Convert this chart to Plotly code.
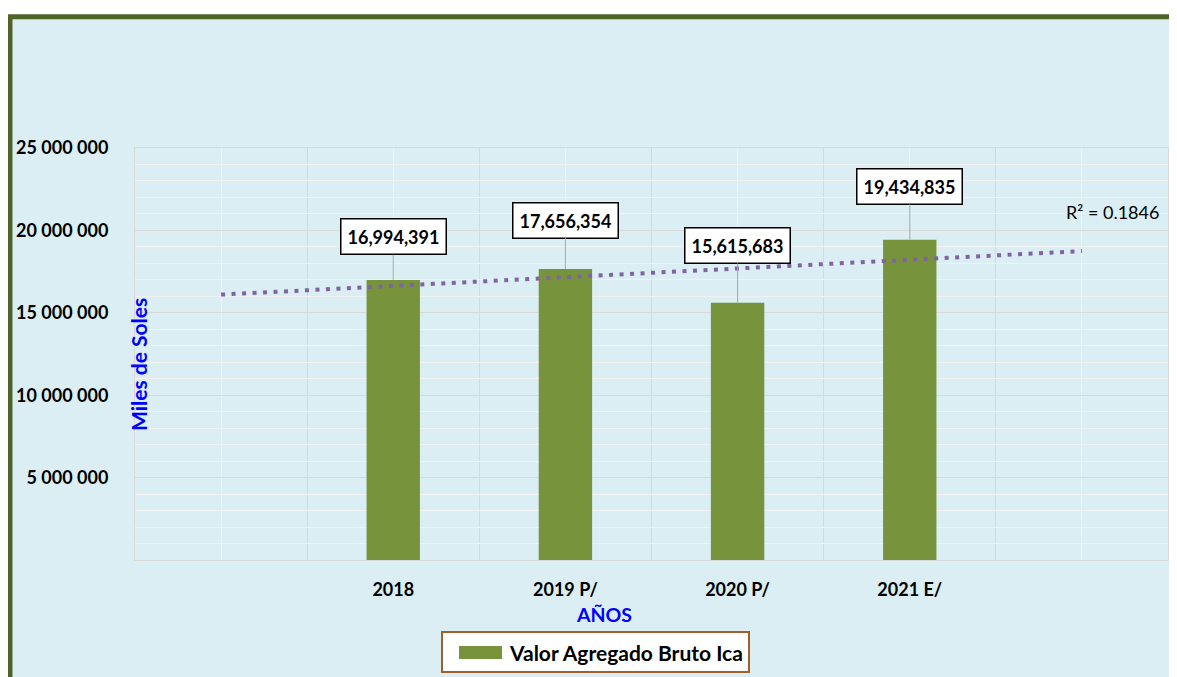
import numpy as np
import plotly.graph_objects as go

# ---- data ----
categories = ["", "2018", "2019 P/", "2020 P/", "2021 E/", ""]
bar_positions = [1, 2, 3, 4]
bar_values = [16994391, 17656354, 15615683, 19434835]
series_name = "Valor Agregado Bruto Ica"
y_tick_values = [5000000, 10000000, 15000000, 20000000, 25000000]
y_tick_labels = ["5 000 000", "10 000 000", "15 000 000", "20 000 000", "25 000 000"]
label_offsets = [-43, -49, -57, -53]

# ---- linear trend (forecast 1 period back and forward) ----
coef = np.polyfit(bar_positions, bar_values, 1)
trend_x = [0, 5]
trend_y = list(np.polyval(coef, trend_x))
fitted = np.polyval(coef, bar_positions)
ss_res = float(np.sum((np.array(bar_values) - fitted) ** 2))
ss_tot = float(np.sum((np.array(bar_values) - np.mean(bar_values)) ** 2))
r2 = 1 - ss_res / ss_tot

# page has an 8px body margin: figure pixel = page pixel - 8
OFF = 8
W, H = 1177 - OFF, 677 - OFF
L, T = 135 - OFF, 148 - OFF
pw, ph = 1033, 412
R, B = W - L - pw, H - T - ph


def px_x(p):  # page pixel -> paper x
    return (p - OFF - L) / pw


def px_y(p):  # page pixel -> paper y
    return (T + ph + OFF - p) / ph


FONT = "Lato"
BG = "#DAEEF3"
GREEN = "#77933C"

fig = go.Figure()

fig.add_trace(go.Bar(
    x=bar_positions, y=bar_values, name=series_name, width=0.31,
    marker=dict(color=GREEN, line=dict(width=0)),
    hoverinfo="y", showlegend=False,
))

fig.add_trace(go.Scatter(
    x=trend_x, y=trend_y, mode="lines", showlegend=False,
    line=dict(color="#8064A2", width=4, dash="4px,6.5px"),
    hoverinfo="skip",
))

annotations = []
for xv, yv, off in zip(bar_positions, bar_values, label_offsets):
    annotations.append(dict(
        x=xv, y=yv, xref="x", yref="y", ax=0, ay=off,
        text="{:,}".format(yv), showarrow=True, arrowhead=0,
        arrowcolor="#A6A6A6", arrowwidth=1, standoff=0,
        bgcolor="white", bordercolor="black", borderwidth=1.5, borderpad=6,
        font=dict(family=FONT, size=18, color="black", weight=700),
    ))

annotations.append(dict(
    x=px_x(1112), y=px_y(212), xref="paper", yref="paper",
    xanchor="center", yanchor="middle",
    text="R² = {:.4f}".format(r2), showarrow=False,
    font=dict(family=FONT, size=18, color="black"),
))
annotations.append(dict(
    x=px_x(138), y=px_y(365), xref="paper", yref="paper",
    xanchor="center", yanchor="middle",
    text="Miles de Soles", showarrow=False, textangle=-90,
    font=dict(family=FONT, size=21, color="#0000FF", weight=700),
))
annotations.append(dict(
    x=px_x(604), y=px_y(614), xref="paper", yref="paper",
    xanchor="center", yanchor="middle",
    text="AÑOS", showarrow=False,
    font=dict(family=FONT, size=19.5, color="#0000FF", weight=700),
))
# legend text
annotations.append(dict(
    x=px_x(507), y=px_y(652.5), xref="paper", yref="paper",
    xanchor="left", yanchor="middle",
    text=series_name, showarrow=False,
    font=dict(family=FONT, size=21, color="black", weight=700),
))

shapes = [
    dict(type="rect", xref="paper", yref="paper", layer="below",
         x0=px_x(10), x1=px_x(1200), y0=px_y(700), y1=px_y(16.7),
         line=dict(color="#4F6228", width=5), fillcolor=BG),
    # legend box
    dict(type="rect", xref="paper", yref="paper", layer="above",
         x0=px_x(442), x1=px_x(749), y0=px_y(672), y1=px_y(632),
         line=dict(color="#A0602A", width=2), fillcolor="white"),
    # legend swatch
    dict(type="rect", xref="paper", yref="paper", layer="above",
         x0=px_x(459), x1=px_x(502), y0=px_y(659), y1=px_y(646),
         line=dict(width=0), fillcolor=GREEN),
]

fig.update_layout(
    width=W, height=H,
    margin=dict(l=L, r=R, t=T, b=B, autoexpand=False),
    paper_bgcolor="white", plot_bgcolor="rgba(0,0,0,0)",
    font=dict(family=FONT, color="black"),
    annotations=annotations, shapes=shapes,
    showlegend=False,
    xaxis=dict(
        range=[-0.5, 5.5], tickmode="array", tickvals=list(range(len(categories))),
        ticktext=categories, showgrid=True, gridcolor="#F2F2F2", gridwidth=1,
        minor=dict(tickmode="array", tickvals=[i - 0.5 for i in range(len(categories) + 1)],
                   showgrid=True, gridcolor="#D9D9D9", gridwidth=1),
        zeroline=False, showline=True, mirror=True, linecolor="#D9D9D9", linewidth=1,
        ticks="", ticklabelstandoff=13,
        tickfont=dict(family=FONT, size=18, color="black", weight=700),
    ),
    yaxis=dict(
        range=[0, 25000000], tickmode="array", tickvals=y_tick_values,
        ticktext=y_tick_labels, showgrid=True, gridcolor="#D9D9D9", gridwidth=1,
        minor=dict(tickmode="linear", tick0=0, dtick=1000000,
                   showgrid=True, gridcolor="#F2F2F2", gridwidth=1),
        zeroline=False, showline=True, mirror=True, linecolor="#D9D9D9", linewidth=1,
        ticks="", ticklabelstandoff=22,
        tickfont=dict(family=FONT, size=18, color="black", weight=700),
    ),
)

fig.write_html("out.html")
